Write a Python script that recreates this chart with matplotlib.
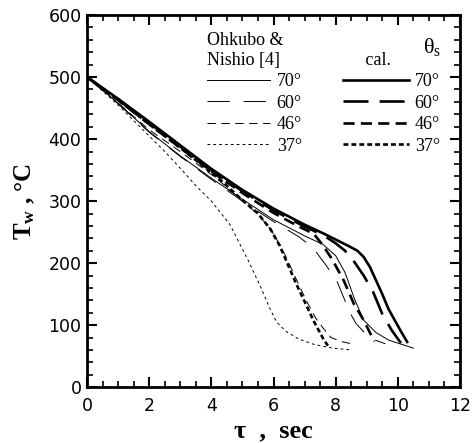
import matplotlib
matplotlib.use("Agg")
import matplotlib.pyplot as plt
from matplotlib.ticker import MultipleLocator

plt.rcParams['mathtext.fontset'] = 'custom'
plt.rcParams['mathtext.rm'] = 'Liberation Serif'
plt.rcParams['mathtext.it'] = 'Liberation Serif:italic'
plt.rcParams['mathtext.bf'] = 'Liberation Serif:bold'
plt.rcParams['lines.scale_dashes'] = False

# ---- data ----
calc70_t = [0, 1, 2, 3, 4, 5, 6, 7, 7.6, 8.0, 8.4, 8.7, 8.9, 9.1, 9.3, 9.5, 9.7, 9.9, 10.1, 10.3]
calc70_T = [500, 465, 428, 390, 352, 318, 288, 262, 248, 238, 228, 220, 210, 194, 172, 150, 126, 108, 90, 73]

calc60_t = [0, 1, 2, 3, 4, 5, 6, 7, 7.6, 8.0, 8.3, 8.6, 8.9, 9.2, 9.5, 9.8, 10.1]
calc60_T = [500, 464, 426, 388, 350, 316, 285, 259, 245, 232, 220, 202, 180, 154, 118, 92, 71]

calc46_t = [0, 1, 2, 3, 4, 5, 6, 6.7, 7.3, 7.6, 7.9, 8.26, 8.58, 8.9, 9.1, 9.25]
calc46_T = [500, 463, 424, 386, 348, 313, 281, 262, 247, 228, 205, 172, 135, 108, 88, 74]

calc37_t = [0, 1, 2, 3, 4, 4.3, 4.9, 5.5, 5.9, 6.2, 6.4, 6.7, 7.0, 7.3, 7.6, 7.8]
calc37_T = [500, 463, 424, 386, 346, 334, 306, 280, 255, 228, 205, 170, 138, 106, 78, 63]

exp70_t = [0, 1, 2, 3, 4, 5, 6, 7, 7.6, 8.0, 8.3, 8.6, 8.9, 9.3, 9.7, 10.0, 10.5]
exp70_T = [500, 458, 412, 373, 337, 303, 270, 244, 230, 212, 185, 143, 108, 88, 76, 71, 63]

exp60_t = [0, 1, 2, 3, 4, 5, 6, 6.8, 7.25, 7.7, 8.05, 8.45, 8.65, 9.0, 9.2, 9.6]
exp60_T = [500, 457, 411, 372, 335, 300, 267, 243, 226, 196, 170, 121, 103, 84, 77, 70]

exp46_t = [0, 1, 2, 3, 4, 4.3, 4.9, 5.5, 5.9, 6.2, 6.45, 6.75, 7.05, 7.35, 7.6, 7.85, 8.15, 8.5]
exp46_T = [500, 458, 415, 380, 343, 331, 304, 279, 255, 230, 205, 172, 140, 112, 95, 80, 74, 70]

exp37_t = [0, 1, 2, 2.5, 3, 3.5, 4, 4.6, 5.2, 5.6, 5.9, 6.1, 6.4, 6.8, 7.3, 7.9, 8.5]
exp37_T = [500, 455, 405, 380, 353, 325, 300, 262, 203, 160, 125, 105, 90, 78, 69, 63, 60]

angle_labels = ['70°', '60°', '46°', '37°']
x_ticks = [0, 2, 4, 6, 8, 10, 12]
y_ticks = [0, 100, 200, 300, 400, 500, 600]

# ---- figure ----
fig = plt.figure(figsize=(4.73, 4.43), dpi=100)
ax = fig.add_axes([0.184, 0.126, 0.7885, 0.840])

k = 'black'
thick = 1.9
thin = 0.7

e70, = ax.plot(exp70_t, exp70_T, color=k, lw=thin, ls='-')
e60, = ax.plot(exp60_t, exp60_T, color=k, lw=thin, ls=(0, (16, 10)))
e46, = ax.plot(exp46_t, exp46_T, color=k, lw=thin, ls=(0, (6, 4)))
e37, = ax.plot(exp37_t, exp37_T, color=k, lw=thin, ls=(0, (2, 2.2)))

c70, = ax.plot(calc70_t, calc70_T, color=k, lw=thick, ls='-')
c60, = ax.plot(calc60_t, calc60_T, color=k, lw=thick, ls=(0, (18, 8)))
c46, = ax.plot(calc46_t, calc46_T, color=k, lw=thick, ls=(0, (8, 4.5)))
c37, = ax.plot(calc37_t, calc37_T, color=k, lw=thick, ls=(0, (3.5, 2.2)))

ax.set_xlim(0, 12)
ax.set_ylim(0, 600)
ax.set_xticks(x_ticks)
ax.set_yticks(y_ticks)
ax.xaxis.set_minor_locator(MultipleLocator(0.5))
ax.yaxis.set_minor_locator(MultipleLocator(20))
ax.tick_params(which='both', direction='in', top=True, right=True)
ax.tick_params(which='major', length=7, width=1.5)
ax.tick_params(axis='x', which='major', pad=7)
ax.tick_params(axis='y', which='major', pad=4)
ax.tick_params(which='minor', length=4, width=1.2)
for s in ax.spines.values():
    s.set_linewidth(2)
for lab in ax.get_xticklabels() + ax.get_yticklabels():
    lab.set_fontfamily('DejaVu Sans')
    lab.set_fontsize(12.5)

ax.set_xlabel('τ  ,  sec', fontfamily='Liberation Serif', fontweight='bold',
              fontsize=19, labelpad=3)
ax.set_ylabel(r'$\mathbf{T_w}$ , °C', fontfamily='Liberation Serif',
              fontweight='bold', fontsize=18, labelpad=8)

lfont = {'family': 'Liberation Serif', 'size': 13}
leg1 = ax.legend([e70, e60, e46, e37], angle_labels, loc='lower left',
                 bbox_to_anchor=(0.322, 0.625), frameon=False, prop=lfont,
                 title='Ohkubo &\nNishio [4]', title_fontproperties=lfont,
                 alignment='left', handlelength=3.5, handletextpad=0.35,
                 labelspacing=0.25, borderpad=0, borderaxespad=0)
ax.add_artist(leg1)
leg2 = ax.legend([c70, c60, c46, c37], angle_labels, loc='lower left',
                 bbox_to_anchor=(0.685, 0.625), frameon=False, prop=lfont,
                 title='     cal.', title_fontproperties=lfont,
                 alignment='left', handlelength=3.7, handletextpad=0.3,
                 labelspacing=0.25, borderpad=0, borderaxespad=0)
ax.text(0.925, 0.915, r'$\mathrm{\theta}_{\mathrm{s}}$', transform=ax.transAxes,
        ha='center', va='center', fontsize=16)

fig.savefig('out.png', dpi=100)
